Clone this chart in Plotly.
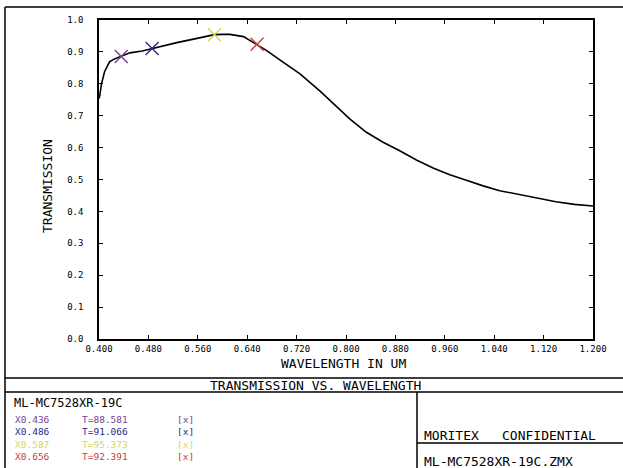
import plotly.graph_objects as go

# ---- data ----
wavelength = [0.400, 0.401, 0.404, 0.409, 0.417, 0.425, 0.436, 0.450, 0.470, 0.486,
              0.505, 0.526, 0.553, 0.575, 0.587, 0.600, 0.612, 0.634, 0.656, 0.671,
              0.698, 0.725, 0.758, 0.779, 0.806, 0.833, 0.860, 0.887, 0.914, 0.941,
              0.968, 0.995, 1.022, 1.049, 1.076, 1.103, 1.140, 1.170, 1.200]
transmission = [0.754, 0.760, 0.800, 0.838, 0.869, 0.878, 0.886, 0.897, 0.903, 0.911,
                0.920, 0.929, 0.940, 0.949, 0.954, 0.955, 0.955, 0.948, 0.924, 0.905,
                0.868, 0.832, 0.777, 0.739, 0.690, 0.648, 0.617, 0.590, 0.561, 0.536,
                0.515, 0.498, 0.480, 0.465, 0.454, 0.445, 0.430, 0.422, 0.417]

marker_wl = [0.436, 0.486, 0.587, 0.656]
marker_t = [0.88581, 0.91066, 0.95373, 0.92391]
marker_colors = ["#7a3f95", "#262a8c", "#d6d65a", "#c84040"]
marker_wl_labels = ["X0.436", "X0.486", "X0.587", "X0.656"]
marker_t_labels = ["T=88.581", "T=91.066", "T=95.373", "T=92.391"]

x_ticks = [0.400, 0.480, 0.560, 0.640, 0.720, 0.800, 0.880, 0.960, 1.040, 1.120, 1.200]
y_ticks = [0.0, 0.1, 0.2, 0.3, 0.4, 0.5, 0.6, 0.7, 0.8, 0.9, 1.0]

x_title = "WAVELENGTH IN UM"
y_title = "TRANSMISSION"
chart_title = "TRANSMISSION VS. WAVELENGTH"
lens_name = "ML-MC7528XR-19C"
company = "MORITEX CONFIDENTIAL"
file_name = "ML-MC7528XR-19C.ZMX"

# ---- layout geometry (pixels) ----
W, H = 623, 468
PL, PR, PT, PB = 99, 593, 20, 339
FONT = "DejaVu Sans Mono"


def px(x):
    return (x - PL) / (PR - PL)


def py(y):
    return (PB - y) / (PB - PT)


fig = go.Figure()
fig.add_trace(go.Scatter(x=wavelength, y=transmission, mode="lines",
                         line=dict(color="black", width=1.6), hoverinfo="skip",
                         showlegend=False))
for wl, t, c in zip(marker_wl, marker_t, marker_colors):
    fig.add_trace(go.Scatter(x=[wl], y=[t], mode="markers",
                             marker=dict(symbol="x-thin-open", size=13, color=c,
                                         line=dict(color=c, width=1.4)),
                             showlegend=False))

shapes = []


def hline(y, x0, x1, w=1.5):
    shapes.append(dict(type="line", xref="paper", yref="paper",
                       x0=px(x0), x1=px(x1), y0=py(y), y1=py(y),
                       line=dict(color="black", width=w)))


def vline(x, y0, y1, w=1.5):
    shapes.append(dict(type="line", xref="paper", yref="paper",
                       x0=px(x), x1=px(x), y0=py(y0), y1=py(y1),
                       line=dict(color="black", width=w)))


hline(7, 5, 623)
vline(5, 7, 468)
hline(378, 5, 623)
hline(392, 5, 623)
vline(417, 392, 468)
hline(443, 417, 623)

annotations = []


def text(s, x, y, size, color="black", xanchor="left", angle=0):
    annotations.append(dict(text=s, xref="paper", yref="paper", x=px(x), y=py(y),
                            xanchor=xanchor, yanchor="middle", showarrow=False,
                            textangle=angle, align="left",
                            font=dict(family=FONT, size=size, color=color)))


text(x_title, 343, 363, 13, xanchor="center")
text(y_title, 47, 186, 13, xanchor="center", angle=-90)
text(chart_title, 315, 385, 13, xanchor="center")
text(lens_name, 12, 403, 12)


def colored_lines(items):
    return "<br>".join(f"<span style='color:{c}'>{s}</span>"
                       for s, c in zip(items, marker_colors))


text(colored_lines(marker_wl_labels), 13, 438.5, 9.5)
text(colored_lines(marker_t_labels), 80, 438.5, 9.5)
text(colored_lines(["[x]"] * len(marker_colors)), 175, 438.5, 9.5)
text(company.split()[0], 422, 435, 13)
text(company.split()[1], 500, 435, 13)
text(file_name, 422, 461, 13)

fig.update_layout(
    width=W, height=H,
    margin=dict(l=PL, r=W - PR, t=PT, b=H - PB, pad=0),
    paper_bgcolor="white", plot_bgcolor="white",
    shapes=shapes, annotations=annotations,
    xaxis=dict(range=[0.4, 1.2], tickvals=x_ticks,
               ticktext=[f"{v:.3f}" for v in x_ticks],
               ticks="inside", ticklen=4, tickcolor="black", mirror="ticks",
               showline=True, linecolor="black", linewidth=1.5,
               showgrid=False, zeroline=False,
               tickfont=dict(family=FONT, size=9, color="black")),
    yaxis=dict(range=[0, 1.0], tickvals=y_ticks,
               ticktext=[f"{v:.1f}" for v in y_ticks],
               ticks="inside", ticklen=4, tickcolor="black", mirror="ticks",
               showline=True, linecolor="black", linewidth=1.5,
               showgrid=False, zeroline=False, ticklabelstandoff=12,
               tickfont=dict(family=FONT, size=9, color="black")),
)

fig.write_html("out.html", config={"displayModeBar": False},
               post_script="document.body.style.margin='0';document.body.style.padding='0';")
